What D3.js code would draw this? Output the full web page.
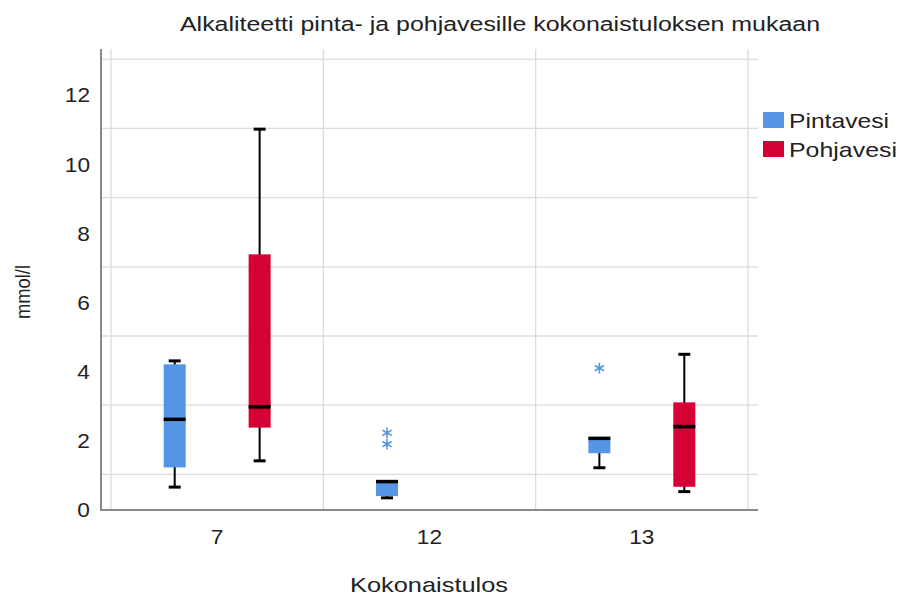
<!DOCTYPE html>
<html>
<head>
<meta charset="utf-8">
<title>Alkaliteetti</title>
<script src="https://d3js.org/d3.v7.min.js"></script>
<style>
  body { margin: 0; background: #fff; }
  text { font-family: "Liberation Sans", Arial, sans-serif; fill: #222; }
  .grid line { stroke: #dcdcdc; stroke-width: 1.3px; }
  .frame { stroke: #8a8a8a; stroke-width: 2px; }
</style>
</head>
<body>
<script>
// categories and series
var groups = ["7", "12", "13"];
var seriesNames = ["Pintavesi", "Pohjavesi"];
var seriesColors = ["#5596e4", "#d50036"];

// box stats per series, one entry per group (null = no data)
// [low whisker, q1, median, q3, high whisker]
var pintavesi = [
  [0.63, 1.20, 2.59, 4.18, 4.28],
  [0.32, 0.37, 0.79, 0.79, 0.79],
  [1.19, 1.61, 2.04, 2.04, 2.04]
];
var pohjavesi = [
  [1.39, 2.35, 2.95, 7.36, 10.98],
  null,
  [0.50, 0.64, 2.38, 3.08, 4.47]
];
// extreme values (asterisks)
var pintavesiExtremes = [[], [2.20, 1.87], [4.07]];
var pohjavesiExtremes = [[], [], []];

var yTicks = [0, 2, 4, 6, 8, 10, 12];
var yGrid = [1, 3, 5, 7, 9, 11, 13];

var width = 900, height = 596;
var plot = {left: 101, right: 758, top: 49, bottom: 510};
var boxW = 22;

var svg = d3.select("body").append("svg")
  .attr("width", width)
  .attr("height", height);

var x = d3.scaleBand()
  .domain(groups)
  .range([111, 748]);

// series position inside a group
var xs = d3.scalePoint()
  .domain(seriesNames)
  .range([0, x.bandwidth()])
  .padding(0.75);

var y = d3.scaleLinear()
  .domain([0, 13])
  .range([508.9, 59.3]);

// the reference text is a bit wider than Liberation Sans, stretch it
function stretch(sel, k) {
  sel.each(function() {
    var w = this.getComputedTextLength();
    d3.select(this).attr("textLength", w * k).attr("lengthAdjust", "spacingAndGlyphs");
  });
}

// grid
var grid = svg.append("g").attr("class", "grid");
grid.selectAll("line.h").data(yGrid).enter().append("line")
  .attr("class", "h")
  .attr("x1", plot.left).attr("x2", plot.right)
  .attr("y1", function(d) { return y(d); })
  .attr("y2", function(d) { return y(d); });
var vEdges = groups.map(function(g) { return x(g); }).concat([x.range()[1]]);
grid.selectAll("line.v").data(vEdges).enter().append("line")
  .attr("class", "v")
  .attr("x1", function(d) { return d; }).attr("x2", function(d) { return d; })
  .attr("y1", plot.top).attr("y2", plot.bottom);

// axes frame
svg.append("line").attr("class", "frame")
  .attr("x1", plot.left).attr("x2", plot.left)
  .attr("y1", plot.top).attr("y2", plot.bottom + 1);
svg.append("line").attr("class", "frame")
  .attr("x1", plot.left - 1).attr("x2", plot.right)
  .attr("y1", plot.bottom).attr("y2", plot.bottom);

// y tick labels
svg.append("g").selectAll("text").data(yTicks).enter().append("text")
  .attr("x", 90)
  .attr("y", function(d) { return y(d) + 1; })
  .attr("dy", "0.36em")
  .attr("text-anchor", "end")
  .style("font-size", "21px")
  .text(function(d) { return d; })
  .call(stretch, 1.08);

// x tick labels
svg.append("g").selectAll("text").data(groups).enter().append("text")
  .attr("x", function(d) { return x(d) + x.bandwidth() / 2; })
  .attr("y", 544)
  .attr("text-anchor", "middle")
  .style("font-size", "21px")
  .text(function(d) { return d; })
  .call(stretch, 1.08);

// boxes
var allSeries = [pintavesi, pohjavesi];
var allExtremes = [pintavesiExtremes, pohjavesiExtremes];
var capW = 12;

allSeries.forEach(function(series, si) {
  var g = svg.append("g");
  var items = [];
  series.forEach(function(s, gi) { if (s) items.push({g: groups[gi], s: s}); });

  var cx = function(d) { return x(d.g) + xs(seriesNames[si]); };

  var b = g.selectAll("g.box").data(items).enter().append("g").attr("class", "box");

  // whiskers
  b.append("line")
    .attr("x1", cx).attr("x2", cx)
    .attr("y1", function(d) { return y(d.s[0]); })
    .attr("y2", function(d) { return y(d.s[4]); })
    .attr("stroke", "#000").attr("stroke-width", 2);
  [0, 4].forEach(function(k) {
    b.filter(function(d) { return k === 0 ? d.s[0] < d.s[1] : d.s[4] > d.s[3]; })
      .append("line")
      .attr("x1", function(d) { return cx(d) - capW / 2; })
      .attr("x2", function(d) { return cx(d) + capW / 2; })
      .attr("y1", function(d) { return y(d.s[k]); })
      .attr("y2", function(d) { return y(d.s[k]); })
      .attr("stroke", "#000").attr("stroke-width", 3);
  });

  // box
  b.append("rect")
    .attr("x", function(d) { return cx(d) - boxW / 2; })
    .attr("width", boxW)
    .attr("y", function(d) { return y(d.s[3]); })
    .attr("height", function(d) { return y(d.s[1]) - y(d.s[3]); })
    .attr("fill", seriesColors[si]);

  // median
  b.append("line")
    .attr("x1", function(d) { return cx(d) - boxW / 2; })
    .attr("x2", function(d) { return cx(d) + boxW / 2; })
    .attr("y1", function(d) { return y(d.s[2]); })
    .attr("y2", function(d) { return y(d.s[2]); })
    .attr("stroke", "#000").attr("stroke-width", 3.5);

  // extremes
  var ex = [];
  allExtremes[si].forEach(function(vals, gi) {
    vals.forEach(function(v) { ex.push({g: groups[gi], v: v}); });
  });
  g.selectAll("path.ext").data(ex).enter().append("path")
    .attr("class", "ext")
    .attr("d", d3.symbol(d3.symbolAsterisk, 80))
    .attr("transform", function(d) { return "translate(" + cx(d) + "," + y(d.v) + ")"; })
    .attr("fill", "none")
    .attr("stroke", seriesColors[si])
    .attr("stroke-width", 1.6);
});

// title
svg.append("text")
  .attr("x", 500).attr("y", 31)
  .attr("text-anchor", "middle")
  .style("font-size", "20px")
  .text("Alkaliteetti pinta- ja pohjavesille kokonaistuloksen mukaan")
  .attr("textLength", 640).attr("lengthAdjust", "spacingAndGlyphs");

// axis titles
svg.append("text")
  .attr("x", 429).attr("y", 592)
  .attr("text-anchor", "middle")
  .style("font-size", "21px")
  .text("Kokonaistulos")
  .attr("textLength", 158).attr("lengthAdjust", "spacingAndGlyphs");
svg.append("text")
  .attr("transform", "translate(30,292) rotate(-90)")
  .attr("text-anchor", "middle")
  .style("font-size", "21px")
  .text("mmol/l")
  .attr("textLength", 54).attr("lengthAdjust", "spacingAndGlyphs");

// legend
var legendW = [100, 108];
var legend = svg.append("g").selectAll("g").data(seriesNames).enter().append("g")
  .attr("transform", function(d, i) { return "translate(763," + (112 + i * 29) + ")"; });
legend.append("rect")
  .attr("width", 21).attr("height", 16)
  .attr("fill", function(d, i) { return seriesColors[i]; });
legend.append("text")
  .attr("x", 26).attr("y", 8).attr("dy", "0.36em")
  .style("font-size", "21px")
  .text(function(d) { return d; })
  .attr("textLength", function(d, i) { return legendW[i]; })
  .attr("lengthAdjust", "spacingAndGlyphs");
</script>
</body>
</html>
